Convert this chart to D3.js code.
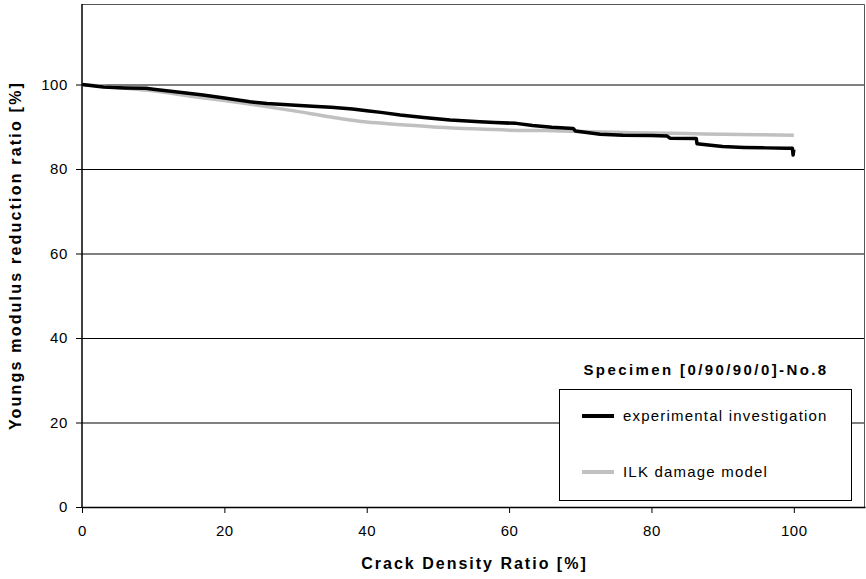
<!DOCTYPE html>
<html>
<head>
<meta charset="utf-8">
<script src="https://cdn.jsdelivr.net/npm/d3@7"></script>
<style>
  html, body { margin: 0; padding: 0; background: #fff; }
  svg { display: block; font-family: "Liberation Sans", Arial, sans-serif; }
</style>
</head>
<body>
<div id="chart"></div>
<script>
// Crack density ratio [%] vs Youngs modulus reduction ratio [%]
const xTicks = [0, 20, 40, 60, 80, 100];
const yTicks = [0, 20, 40, 60, 80, 100];

const expX = [0, 3, 6, 9, 10, 14, 17, 20, 23.6, 26, 30, 33, 35, 38, 40, 42, 44.7, 48, 51.7, 55.9,
  58, 61, 63.3, 66, 69, 69.3, 72.8, 76, 80, 82.2, 82.6, 86.3, 86.4, 88, 90, 93, 96, 99, 99.8, 99.9, 100];
const expY = [100, 99.4, 99.2, 99.1, 98.9, 98.1, 97.5, 96.8, 95.9, 95.5, 95.1, 94.8, 94.6, 94.2, 93.8, 93.4, 92.8, 92.2, 91.6, 91.2,
  91.0, 90.8, 90.3, 89.9, 89.6, 89.0, 88.2, 88.0, 87.9, 87.8, 87.3, 87.2, 86.0, 85.7, 85.3, 85.1, 85.0, 84.9, 84.9, 83.3, 84.6];

const modelX = [0, 5, 10, 15, 20, 25, 30, 35, 40, 45, 50, 55, 60, 65, 70, 75, 80, 85, 90, 95, 100];
const modelY = [100, 99.3, 98.5, 97.3, 96.2, 95.0, 93.7, 92.3, 91.1, 90.5, 89.9, 89.5, 89.2, 89.1, 88.9, 88.7, 88.5, 88.4, 88.2, 88.1, 88.0];

const seriesNames = ['experimental investigation', 'ILK damage model'];
const legendTitle = 'Specimen [0/90/90/0]-No.8';

const W = 866, H = 579;
const pLeft = 82, pRight = 865, pTop = 4, pBottom = 507;

const x = d3.scaleLinear().domain([0, 110]).range([pLeft, pRight]);
const y = d3.scaleLinear().domain([0, 100]).range([pBottom, 84.5]);

const svg = d3.select('#chart').append('svg')
  .attr('width', W).attr('height', H);

// gridlines
svg.append('g')
  .attr('transform', `translate(${pLeft},0)`)
  .call(d3.axisLeft(y).tickValues(yTicks.filter(v => v > 0)).tickSize(-(pRight - pLeft)).tickFormat(''))
  .call(g => g.select('.domain').remove())
  .call(g => g.selectAll('line').attr('stroke', '#000').attr('stroke-width', 1));

// plot frame (top / right)
svg.append('path')
  .attr('d', `M${pLeft},${pTop + 0.5}H${pRight - 0.5}V${pBottom}`)
  .attr('fill', 'none').attr('stroke', '#555').attr('stroke-width', 1);

// axes
const yAxis = svg.append('g')
  .attr('transform', `translate(${pLeft},0)`)
  .call(d3.axisLeft(y).tickValues(yTicks).tickSize(6).tickPadding(8).tickSizeOuter(0));
yAxis.select('.domain').attr('d', `M0,${pTop}V${pBottom + 0.5}`);

const xAxis = svg.append('g')
  .attr('transform', `translate(0,${pBottom})`)
  .call(d3.axisBottom(x).tickValues(xTicks).tickSize(6).tickPadding(12).tickSizeOuter(0));

[xAxis, yAxis].forEach(a => {
  a.select('.domain').attr('stroke', '#000').attr('stroke-width', 1.5);
  a.selectAll('.tick line').attr('stroke', '#000');
  a.selectAll('.tick text')
    .attr('font-size', 15).attr('fill', '#000')
    .attr('font-family', '"Liberation Sans", Arial, sans-serif')
    .style('letter-spacing', '0.6px');
});

// series
const modelPts = modelX.map((v, i) => [v, modelY[i]]);
const expPts = expX.map((v, i) => [v, expY[i]]);

svg.append('path')
  .datum(modelPts)
  .attr('d', d3.line().x(d => x(d[0])).y(d => y(d[1])).curve(d3.curveMonotoneX))
  .attr('fill', 'none').attr('stroke', '#c0c0c0').attr('stroke-width', 3.5)
  .attr('stroke-linejoin', 'round');

svg.append('path')
  .datum(expPts)
  .attr('d', d3.line().x(d => x(d[0])).y(d => y(d[1])))
  .attr('fill', 'none').attr('stroke', '#000').attr('stroke-width', 3.5)
  .attr('stroke-linejoin', 'round');

// axis titles
svg.append('text')
  .attr('x', (pLeft + pRight) / 2 + 1).attr('y', 569)
  .attr('text-anchor', 'middle')
  .attr('font-size', 16).attr('font-weight', 'bold')
  .style('letter-spacing', '2px')
  .text('Crack Density Ratio [%]');

svg.append('text')
  .attr('transform', `translate(21,${(pTop + pBottom) / 2}) rotate(-90)`)
  .attr('text-anchor', 'middle')
  .attr('font-size', 16).attr('font-weight', 'bold')
  .style('letter-spacing', '2.2px')
  .text('Youngs modulus reduction ratio [%]');

// legend
const lg = svg.append('g');
lg.append('text')
  .attr('x', 706).attr('y', 375)
  .attr('text-anchor', 'middle')
  .attr('font-size', 15).attr('font-weight', 'bold')
  .style('letter-spacing', '2.4px')
  .text(legendTitle);

lg.append('rect')
  .attr('x', 559.5).attr('y', 389.5).attr('width', 292).attr('height', 111)
  .attr('fill', '#fff').attr('stroke', '#000').attr('stroke-width', 1);

const legendColors = ['#000', '#c0c0c0'];
const legendRows = [416, 472];
seriesNames.forEach((name, i) => {
  lg.append('line')
    .attr('x1', 582).attr('x2', 614)
    .attr('y1', legendRows[i]).attr('y2', legendRows[i])
    .attr('stroke', legendColors[i]).attr('stroke-width', 4);
  lg.append('text')
    .attr('x', 623).attr('y', legendRows[i] + 5)
    .attr('font-size', 15)
    .style('letter-spacing', '1.2px')
    .text(name);
});
</script>
</body>
</html>
